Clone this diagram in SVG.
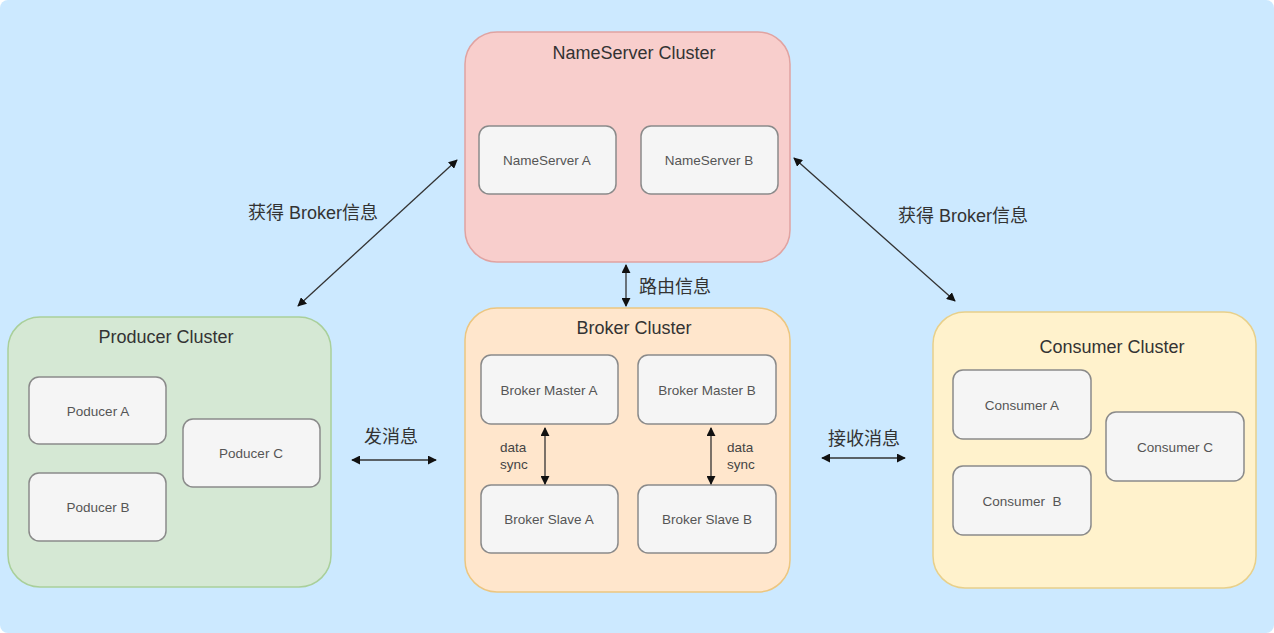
<svg xmlns="http://www.w3.org/2000/svg" width="1274" height="633" viewBox="0 0 1274 633">
<style>
.bg{fill:#cce9ff}
.cl{stroke-width:1.5}
.ns{fill:#f8cecc;stroke:#e0a3a1}
.pr{fill:#d5e8d4;stroke:#a9cf9a}
.br{fill:#ffe6cc;stroke:#ecc680}
.co{fill:#fff2cc;stroke:#e8d08a}
.box{fill:#f5f5f5;stroke:#8a8a8a;stroke-width:1.5}
.t{font-family:"Liberation Sans","Noto Sans CJK SC",sans-serif;text-anchor:middle;dominant-baseline:central}
.title{font-size:18px;fill:#333}
.bt{font-size:13.5px;fill:#555}
.lb{font-size:18px;fill:#333}
.sl{font-size:13.5px;fill:#444;text-anchor:start}
.ln{stroke:#333;stroke-width:1.3;fill:none;marker-start:url(#ah);marker-end:url(#ah)}
</style>
<defs>
<marker id="ah" viewBox="0 0 10 10" refX="9" refY="5" markerWidth="9" markerHeight="9" markerUnits="userSpaceOnUse" orient="auto-start-reverse">
<path d="M0,0 L10,5 L0,10 z" fill="#111"/>
</marker>
</defs>
<rect class="bg" x="0" y="0" width="1274" height="633" rx="8"/>
<g id="nameserver-cluster">
<rect class="cl ns" x="465" y="32" width="325" height="230" rx="32"/>
<text class="t title" x="634" y="53">NameServer Cluster</text>
</g>
<g id="nameserver-a"><rect class="box" x="479" y="126" width="137" height="68" rx="10"/><text class="t bt" x="547" y="160">NameServer A</text></g>
<g id="nameserver-b"><rect class="box" x="641" y="126" width="137" height="68" rx="10"/><text class="t bt" x="709" y="160">NameServer B</text></g>
<g id="producer-cluster">
<rect class="cl pr" x="8" y="317" width="323" height="270" rx="32"/>
<text class="t title" x="166" y="337">Producer Cluster</text>
</g>
<g id="producer-a"><rect class="box" x="29" y="377" width="137" height="67" rx="10"/><text class="t bt" x="98" y="411">Poducer A</text></g>
<g id="producer-b"><rect class="box" x="29" y="473" width="137" height="68" rx="10"/><text class="t bt" x="98" y="507">Poducer B</text></g>
<g id="producer-c"><rect class="box" x="183" y="419" width="137" height="68" rx="10"/><text class="t bt" x="251" y="453">Poducer C</text></g>
<g id="broker-cluster">
<rect class="cl br" x="465" y="308" width="325" height="284" rx="32"/>
<text class="t title" x="634" y="328">Broker Cluster</text>
</g>
<g id="broker-master-a"><rect class="box" x="481" y="355" width="137" height="69" rx="10"/><text class="t bt" x="549" y="390">Broker Master A</text></g>
<g id="broker-master-b"><rect class="box" x="638" y="355" width="138" height="69" rx="10"/><text class="t bt" x="707" y="390">Broker Master B</text></g>
<g id="broker-slave-a"><rect class="box" x="481" y="485" width="137" height="68" rx="10"/><text class="t bt" x="549" y="519">Broker Slave A</text></g>
<g id="broker-slave-b"><rect class="box" x="638" y="485" width="138" height="68" rx="10"/><text class="t bt" x="707" y="519">Broker Slave B</text></g>
<g id="consumer-cluster">
<rect class="cl co" x="933" y="312" width="323" height="276" rx="32"/>
<text class="t title" x="1112" y="347">Consumer Cluster</text>
</g>
<g id="consumer-a"><rect class="box" x="953" y="370" width="138" height="69" rx="10"/><text class="t bt" x="1022" y="405">Consumer A</text></g>
<g id="consumer-b"><rect class="box" x="953" y="466" width="138" height="69" rx="10"/><text class="t bt" x="1022" y="501" xml:space="preserve">Consumer  B</text></g>
<g id="consumer-c"><rect class="box" x="1106" y="412" width="138" height="69" rx="10"/><text class="t bt" x="1175" y="447">Consumer C</text></g>
<g id="connectors">
<line class="ln" x1="298" y1="306" x2="457" y2="160"/>
<line class="ln" x1="794" y1="158" x2="955" y2="301"/>
<line class="ln" x1="626" y1="265" x2="626" y2="306"/>
<line class="ln" x1="352" y1="460" x2="436" y2="460"/>
<line class="ln" x1="822" y1="458" x2="905" y2="458"/>
<line class="ln" x1="545" y1="428" x2="545" y2="484"/>
<line class="ln" x1="711" y1="428" x2="711" y2="484"/>
<text class="t lb" x="313" y="213">获得 Broker信息</text>
<text class="t lb" x="963" y="216">获得 Broker信息</text>
<text class="t lb" x="675" y="287">路由信息</text>
<text class="t lb" x="391" y="437">发消息</text>
<text class="t lb" x="864" y="439">接收消息</text>
<text class="t sl" x="500" y="447">data</text>
<text class="t sl" x="500" y="464">sync</text>
<text class="t sl" x="727" y="447">data</text>
<text class="t sl" x="727" y="464">sync</text>
</g>
</svg>
